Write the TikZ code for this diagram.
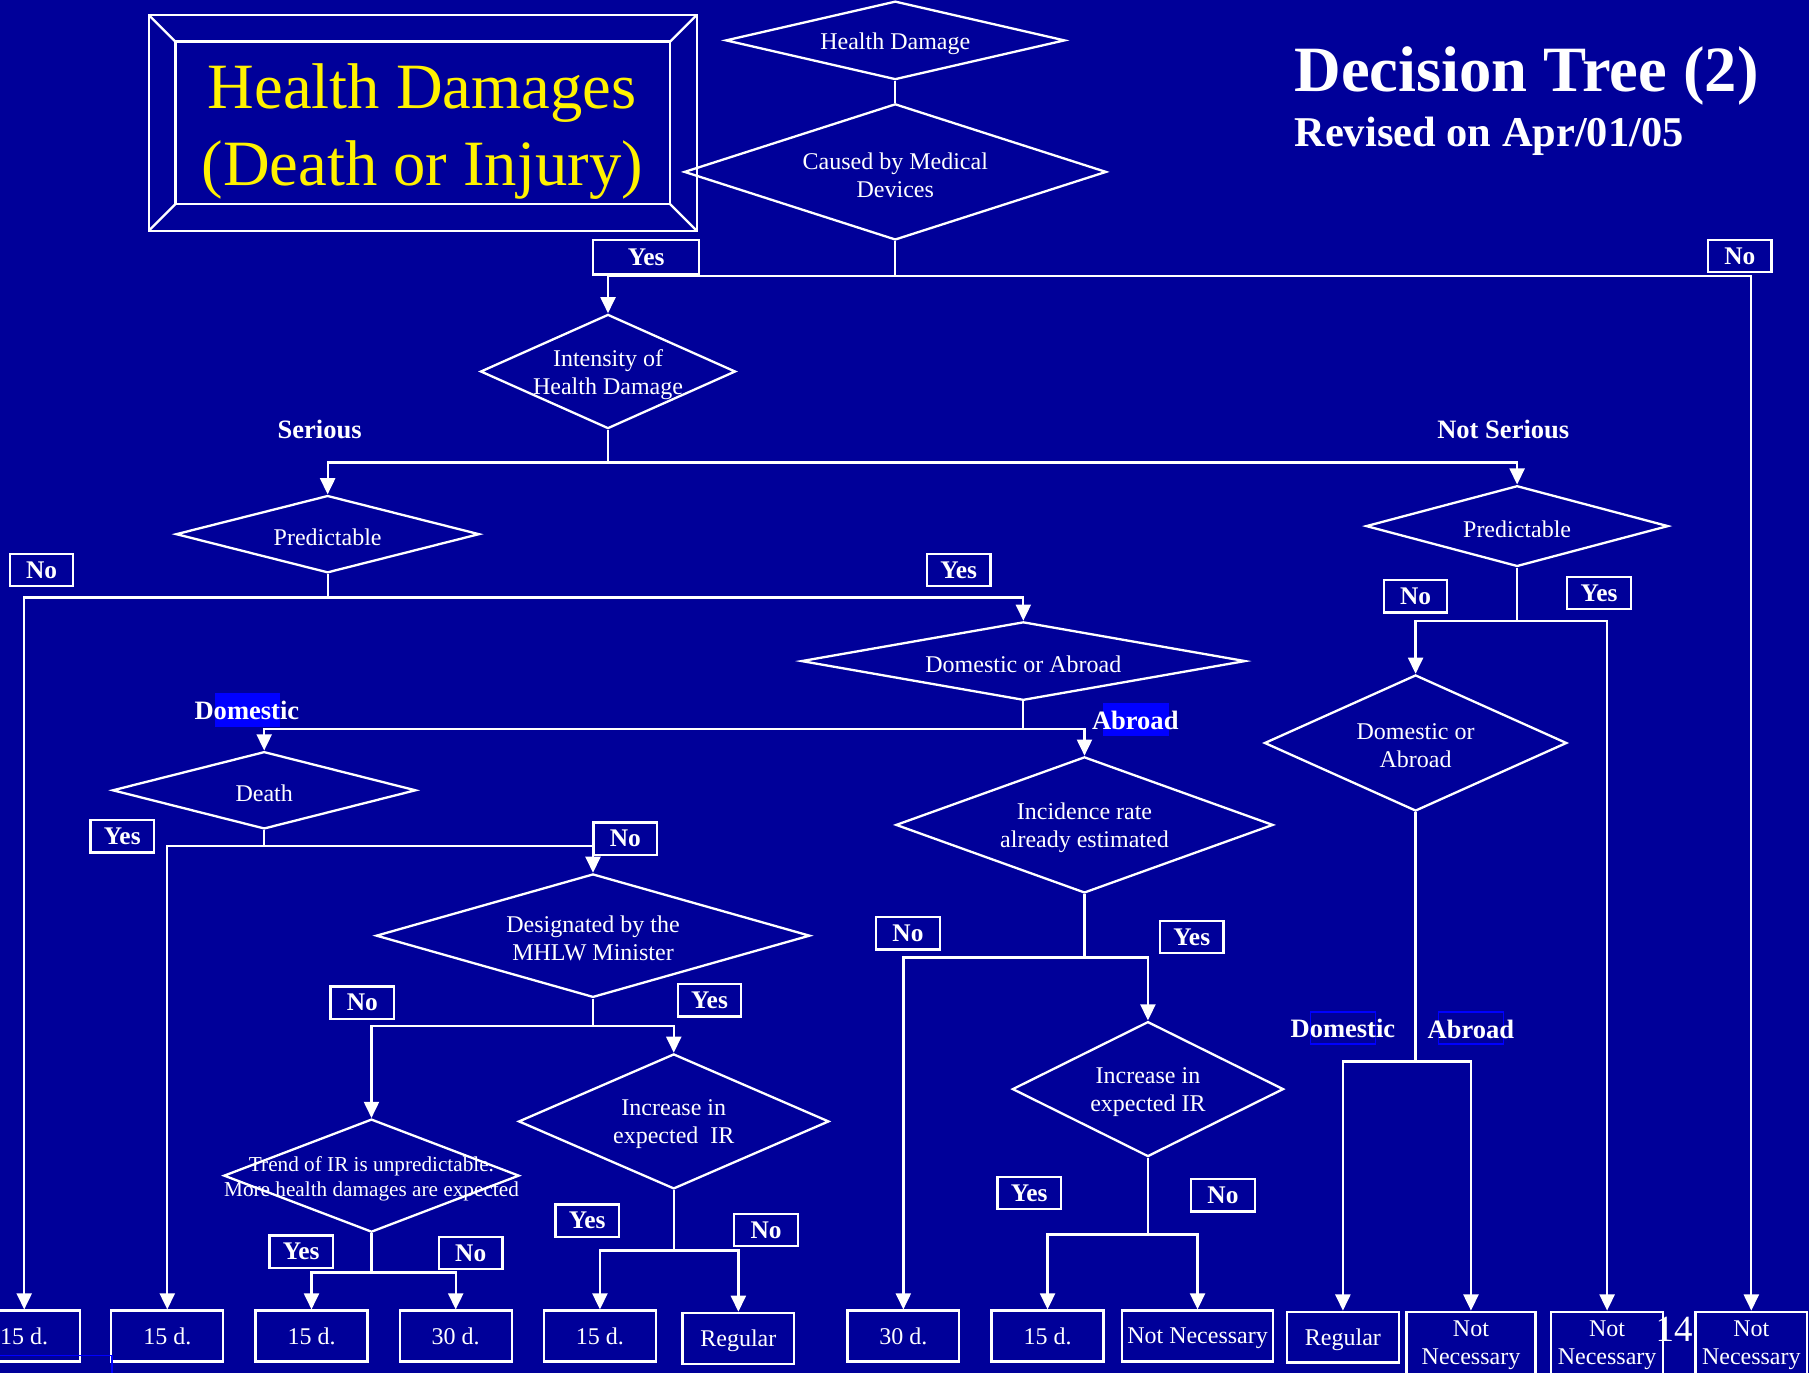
\documentclass[tikz,border=0pt]{standalone}
\usepackage{fontspec}
\setmainfont{Liberation Serif}
\usetikzlibrary{shapes.geometric,arrows.meta}
\definecolor{slideblue}{RGB}{0,0,153}
\definecolor{markblue}{RGB}{0,0,255}

\begin{document}
\begin{tikzpicture}[x=0.5pt,y=-0.5pt,line width=1pt,white,
  dec/.style 2 args={diamond,draw,inner sep=0pt,minimum width=#1*0.5pt,minimum height=#2*0.5pt},
  txt/.style={font=\fontsize{10.4}{12.2}\selectfont,align=center,inner sep=0pt,yshift=-1.3pt},
  ans/.style={draw,inner sep=0pt,minimum width=27.5pt,minimum height=14pt,font=\fontsize{11}{13}\selectfont\bfseries},
  branch/.style={inner sep=0pt,font=\fontsize{11.5}{13}\selectfont\bfseries},
  leaf/.style={draw,inner sep=0pt,minimum width=48.5pt,minimum height=22pt,align=center,font=\fontsize{10.4}{12.2}\selectfont},
  arr/.style={-{Triangle[width=6.5pt,length=7pt]}}]
  \fill[slideblue] (0,0) rectangle (1568,1190);
  \useasboundingbox (0,0) rectangle (1568,1190);

  \draw (129,13) rectangle (604,200) (152,36) rectangle (581,177);
  \draw (129,13) -- (152,36) (604,13) -- (581,36) (129,200) -- (152,177) (604,200) -- (581,177);
  \node[align=center,text=yellow,inner sep=0pt,font=\fontsize{28}{33}\selectfont] (banner) at (366,114) {Health Damages\\(Death or Injury)};
  \node[anchor=base west,inner sep=0pt,font=\fontsize{28}{30}\selectfont\bfseries] (head) at (1121,79) {Decision Tree (2)};
  \node[anchor=base west,inner sep=0pt,font=\fontsize{18.4}{20}\selectfont\bfseries] (rev) at (1121,127) {Revised on Apr/01/05};
  \node[anchor=base,inner sep=0pt,font=\fontsize{16}{18}\selectfont] (page) at (1451,1163) {14};

  \node[dec={294}{68},label={[txt]center:Health Damage}] (hd) at (776,35) {};
  \node[dec={366}{118},label={[txt]center:Caused by Medical\\Devices}] (caused) at (776,149) {};
  \node[dec={221}{99},label={[txt]center:Intensity of\\Health Damage}] (intens) at (527,322) {};
  \node[dec={263}{67},label={[txt]center:Predictable}] (predl) at (284,463) {};
  \node[dec={262}{70},label={[txt]center:Predictable}] (predr) at (1315,456) {};
  \node[dec={385}{68},label={[txt]center:Domestic or Abroad}] (doam) at (887,573) {};
  \node[dec={263}{67},label={[txt]center:Death}] (death) at (229,685) {};
  \node[dec={376}{107},label={[txt]center:Designated by the\\MHLW Minister}] (desig) at (514,811) {};
  \node[dec={256}{98},label={[txt,font=\fontsize{9.2}{11}\selectfont]center:Trend of IR is unpredictable.\\More health damages are expected}] (trend) at (322,1019) {};
  \node[dec={269}{117},label={[txt]center:Increase in\\expected~~IR}] (incl) at (584,972) {};
  \node[dec={327}{118},label={[txt]center:Incidence rate\\already estimated}] (incid) at (940,715) {};
  \node[dec={235}{117},label={[txt]center:Increase in\\expected IR}] (incr) at (995,944) {};
  \node[dec={262}{118},label={[txt]center:Domestic or\\Abroad}] (doar) at (1227,644) {};

  \node[leaf] (d15a) at (21,1158) {15 d.};
  \node[leaf] (d15b) at (145,1158) {15 d.};
  \node[leaf] (d15c) at (270,1158) {15 d.};
  \node[leaf] (d30a) at (395,1158) {30 d.};
  \node[leaf] (d15d) at (520,1158) {15 d.};
  \node[leaf,text depth=0pt] (rega) at (640,1160) {Regular};
  \node[leaf] (d30b) at (783,1158) {30 d.};
  \node[leaf] (d15e) at (908,1158) {15 d.};
  \node[leaf,text depth=0pt,minimum width=65.5pt] (nna) at (1038,1158) {Not Necessary};
  \node[leaf,text depth=0pt] (regb) at (1164,1159) {Regular};
  \node[leaf,anchor=north,minimum width=56pt,minimum height=29pt] (nnb) at (1275,1136) {Not\\Necessary};
  \node[leaf,anchor=north,minimum height=29pt] (nnc) at (1393,1136) {Not\\Necessary};
  \node[leaf,anchor=north,minimum height=29pt] (nnd) at (1518,1136) {Not\\Necessary};

  \node[ans,minimum width=46pt,minimum height=15pt] (yes1) at (560,223) {Yes};
  \node[ans] (no1) at (1508,222) {No};
  \node[ans] (no2) at (36,494) {No};
  \node[ans] (yes2) at (831,494) {Yes};
  \node[ans] (yes3) at (106,725) {Yes};
  \node[ans] (no3) at (542,727) {No};
  \node[ans] (no4) at (314,869) {No};
  \node[ans] (yes4) at (615,867) {Yes};
  \node[ans] (yes5) at (261,1085) {Yes};
  \node[ans] (no5) at (408,1086) {No};
  \node[ans] (yes6) at (509,1058) {Yes};
  \node[ans] (no6) at (664,1066) {No};
  \node[ans] (no7) at (787,809) {No};
  \node[ans] (yes7) at (1033,812) {Yes};
  \node[ans] (yes8) at (892,1034) {Yes};
  \node[ans] (no8) at (1060,1036) {No};
  \node[ans] (no9) at (1227,517) {No};
  \node[ans] (yes9) at (1386,514) {Yes};

  \fill[markblue] (186,601) rectangle (243,630);
  \fill[markblue] (956,609) rectangle (1013,638);
  \draw[markblue,line width=0.6pt] (1136,877) rectangle (1192,905) (1247,877) rectangle (1303,905);
  \draw[markblue,line width=0.6pt] (0,1175) -- (97,1175) -- (97,1190);
  \node[branch] (serious) at (277,372) {Serious};
  \node[branch] (notserious) at (1303,372) {Not Serious};
  \node[branch] (doml) at (214,616) {Domestic};
  \node[branch] (abrl) at (984,624) {Abroad};
  \node[branch] (domr) at (1164,891) {Domestic};
  \node[branch] (abrr) at (1275,892) {Abroad};

  \coordinate (j1) at (776,239);
  \coordinate (j2) at (527,401);
  \coordinate (j3) at (284,518);
  \coordinate (j4) at (887,632);
  \coordinate (j5) at (229,733);
  \coordinate (j6) at (514,889);
  \coordinate (j7) at (322,1103);
  \coordinate (j8) at (584,1084);
  \coordinate (j9) at (940,830);
  \coordinate (j10) at (995,1070);
  \coordinate (j11) at (1315,538);
  \coordinate (j12) at (1227,920);

  \draw (hd.south) -- (caused.north);
  \draw (caused.south) -- (j1);
  \draw[arr] (j1) -| (intens.north);
  \draw[arr] (j1) -| (nnd.north);
  \draw (intens.south) -- (j2);
  \draw[arr] (j2) -| (predl.north);
  \draw[arr] (j2) -| (predr.north);
  \draw (predl.south) -- (j3);
  \draw[arr] (j3) -| (d15a.north);
  \draw[arr] (j3) -| (doam.north);
  \draw (doam.south) -- (j4);
  \draw[arr] (j4) -| (death.north);
  \draw[arr] (j4) -| (incid.north);
  \draw (death.south) -- (j5);
  \draw[arr] (j5) -| (d15b.north);
  \draw[arr] (j5) -| (desig.north);
  \draw (desig.south) -- (j6);
  \draw[arr] (j6) -| (trend.north);
  \draw[arr] (j6) -| (incl.north);
  \draw (trend.south) -- (j7);
  \draw[arr] (j7) -| (d15c.north);
  \draw[arr] (j7) -| (d30a.north);
  \draw (incl.south) -- (j8);
  \draw[arr] (j8) -| (d15d.north);
  \draw[arr] (j8) -| (rega.north);
  \draw (incid.south) -- (j9);
  \draw[arr] (j9) -| (d30b.north);
  \draw[arr] (j9) -| (incr.north);
  \draw (incr.south) -- (j10);
  \draw[arr] (j10) -| (d15e.north);
  \draw[arr] (j10) -| (nna.north);
  \draw (predr.south) -- (j11);
  \draw[arr] (j11) -| (doar.north);
  \draw[arr] (j11) -| (nnc.north);
  \draw (doar.south) -- (j12);
  \draw[arr] (j12) -| (regb.north);
  \draw[arr] (j12) -| (nnb.north);
\end{tikzpicture}
\end{document}
